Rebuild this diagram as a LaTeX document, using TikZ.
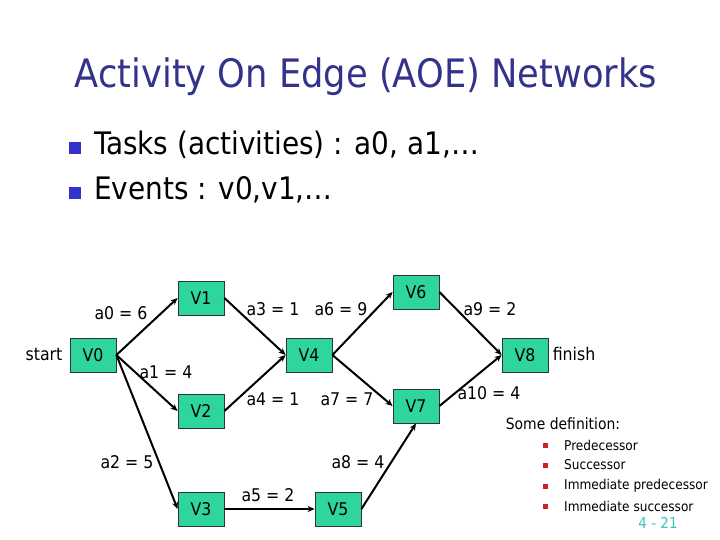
\documentclass[tikz,border=0pt]{standalone}
\usepackage{fontspec}
\setmainfont{DejaVu Sans Condensed}
\usetikzlibrary{arrows.meta}
\definecolor{boxgreen}{RGB}{46,214,158}
\definecolor{titleblue}{RGB}{51,51,140}
\definecolor{bulletblue}{RGB}{51,51,204}
\definecolor{bulletred}{RGB}{204,34,34}
\definecolor{pagenum}{RGB}{64,196,186}
\tikzset{
  ev/.style={draw=black!80, line width=0.8pt, fill=boxgreen, minimum width=46pt, minimum height=34pt, inner sep=0pt, font=\fontsize{17.5}{20}\selectfont},
  arr/.style={-{Stealth[length=7pt,width=6pt]}, line width=2pt, black},
  lab/.style={font=\fontsize{17.5}{20}\selectfont, inner sep=0pt},
  deftext/.style={font=\fontsize{13.5}{16}\selectfont, anchor=west, inner sep=0pt},
  redbul/.style={fill=bulletred, minimum size=5pt, inner sep=0pt},
  bluebul/.style={fill=bulletblue, minimum size=12pt, inner sep=0pt},
  bigtext/.style={font=\fontsize{31}{36}\selectfont, anchor=base west, inner sep=0pt}
}
\begin{document}
\begin{tikzpicture}[x=1pt,y=-1pt]
\useasboundingbox (0,0) rectangle (720,540);
\fill[white] (0,0) rectangle (720,540);
% title
\node[font=\fontsize{39.2}{44}\selectfont, text=titleblue, anchor=base, inner sep=0pt] (title) at (366,88) {Activity On Edge (AOE) Networks};
% bullets
\node[bluebul] (bu1) at (75,148) {};
\node[bigtext] (t1) at (94,155) {Tasks (activities) : a0, a1,…};
\node[bluebul] (bu2) at (75,193) {};
\node[bigtext] (t2) at (94,200) {Events : v0,v1,…};
% events
\node[ev] (v0) at (93,355) {V0};
\node[ev] (v1) at (201,298) {V1};
\node[ev] (v2) at (201,411) {V2};
\node[ev] (v3) at (201,509) {V3};
\node[ev] (v4) at (309,355) {V4};
\node[ev] (v5) at (338,509) {V5};
\node[ev] (v6) at (416,292) {V6};
\node[ev] (v7) at (416,406) {V7};
\node[ev] (v8) at (525,355) {V8};
% activities
\draw[arr] (v0.east) -- (v1.west);
\draw[arr] (v0.east) -- (v2.west);
\draw[arr] (v0.east) -- (v3.west);
\draw[arr] (v1.east) -- (v4.west);
\draw[arr] (v2.east) -- (v4.west);
\draw[arr] (v3.east) -- (v5.west);
\draw[arr] (v4.east) -- (v6.west);
\draw[arr] (v4.east) -- (v7.west);
\draw[arr] (v5.east) -- (v7.south);
\draw[arr] (v6.east) -- (v8.west);
\draw[arr] (v7.east) -- (v8.west);
% labels
\node[lab] (start) at (44,354) {start};
\node[lab] (finish) at (574,354) {finish};
\node[lab] (la0) at (121,313) {a0 = 6};
\node[lab] (la1) at (166,372) {a1 = 4};
\node[lab] (la2) at (127,462) {a2 = 5};
\node[lab] (la3) at (273,309) {a3 = 1};
\node[lab] (la6) at (341,309) {a6 = 9};
\node[lab] (la4) at (273,399) {a4 = 1};
\node[lab] (la7) at (347,399) {a7 = 7};
\node[lab] (la8) at (358,462) {a8 = 4};
\node[lab] (la5) at (268,495) {a5 = 2};
\node[lab] (la9) at (490,309) {a9 = 2};
\node[lab] (la10) at (489,393) {a10 = 4};
% definitions
\node[font=\fontsize{15.5}{18}\selectfont, inner sep=0pt] (def) at (563,424) {Some definition:};
\node[redbul] (r1) at (545,445) {};
\node[deftext] (d1) at (564,445) {Predecessor};
\node[redbul] (r2) at (545,465) {};
\node[deftext] (d2) at (564,465) {Successor};
\node[redbul] (r3) at (545,486) {};
\node[deftext] (d3) at (564,486) {Immediate predecessor};
\node[redbul] (r4) at (545,506) {};
\node[deftext] (d4) at (564,506) {Immediate successor};
\node[font=\fontsize{15}{18}\selectfont, text=pagenum, inner sep=0pt] (pg) at (658,523) {4 - 21};
\end{tikzpicture}
\end{document}
